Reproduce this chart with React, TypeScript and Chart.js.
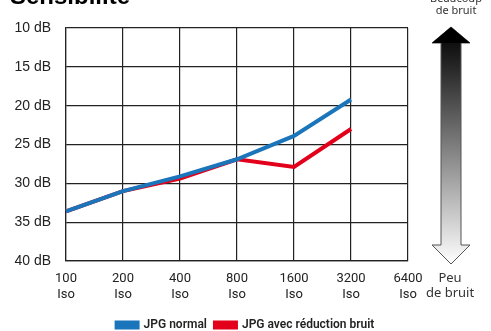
import React, { useEffect, useRef } from "react";
import { Chart, registerables } from "chart.js";

Chart.register(...registerables);

const categories: string[][] = [
  ["100", "Iso"],
  ["200", "Iso"],
  ["400", "Iso"],
  ["800", "Iso"],
  ["1600", "Iso"],
  ["3200", "Iso"],
  ["6400", "Iso"],
];
const jpgNormal: (number | null)[] = [33.6, 31.0, 29.1, 26.9, 23.9, 19.2, null];
const jpgReduction: (number | null)[] = [33.6, 31.0, 29.4, 26.9, 27.9, 23.0, null];
const seriesNames = ["JPG normal", "JPG avec réduction bruit"];
const titleText = "Sensibilité";
const topNote = ["Beaucoup", "de bruit"];
const bottomNote = ["Peu", "de bruit"];

const BLUE = "#1b75bb";
const RED = "#e2001a";

const decorPlugin = {
  id: "decor",
  afterDraw(chart: any) {
    const ctx = chart.ctx as CanvasRenderingContext2D;
    const area = chart.chartArea;
    ctx.save();
    ctx.fillStyle = "#000";
    ctx.font = "bold 24px 'Liberation Sans', Arial, sans-serif";
    ctx.textAlign = "left";
    ctx.textBaseline = "alphabetic";
    ctx.fillText(titleText, 10, 4);

    const cx = 451;
    const top = area.top - 1;
    const bottom = area.bottom + 3;
    const headH = 16;
    const headW = 19;
    const shaftW = 10;
    const grad = ctx.createLinearGradient(0, top, 0, bottom);
    grad.addColorStop(0, "#000");
    grad.addColorStop(0.15, "#222");
    grad.addColorStop(1, "#fff");
    ctx.beginPath();
    ctx.moveTo(cx, top);
    ctx.lineTo(cx + headW, top + headH);
    ctx.lineTo(cx + shaftW, top + headH);
    ctx.lineTo(cx + shaftW, bottom - headH - 3);
    ctx.lineTo(cx + headW, bottom - headH - 3);
    ctx.lineTo(cx, bottom);
    ctx.lineTo(cx - headW, bottom - headH - 3);
    ctx.lineTo(cx - shaftW, bottom - headH - 3);
    ctx.lineTo(cx - shaftW, top + headH);
    ctx.lineTo(cx - headW, top + headH);
    ctx.closePath();
    ctx.fillStyle = grad;
    ctx.fill();
    ctx.strokeStyle = "#555";
    ctx.lineWidth = 1;
    ctx.stroke();
    ctx.beginPath();
    ctx.moveTo(cx, top);
    ctx.lineTo(cx + headW, top + headH);
    ctx.lineTo(cx - headW, top + headH);
    ctx.closePath();
    ctx.fillStyle = "#000";
    ctx.fill();

    ctx.fillStyle = "#333";
    ctx.textAlign = "center";
    ctx.font = "11px 'Noto Sans', sans-serif";
    ctx.fillText(topNote[0], 456, 2);
    ctx.fillText(topNote[1], 456, 14);
    ctx.font = "13px 'Noto Sans', sans-serif";
    ctx.fillText(bottomNote[0], 450, 282);
    ctx.fillText(bottomNote[1], 450, 297);
    ctx.restore();
  },
};

export default function App() {
  const ref = useRef<HTMLCanvasElement>(null);
  useEffect(() => {
    if (!ref.current) return;
    const chart = new Chart(ref.current, {
      type: "line",
      data: {
        labels: categories,
        datasets: [
          {
            label: seriesNames[0],
            data: jpgNormal,
            borderColor: BLUE,
            backgroundColor: BLUE,
            borderWidth: 4,
            pointRadius: 0,
            tension: 0,
          },
          {
            label: seriesNames[1],
            data: jpgReduction,
            borderColor: RED,
            backgroundColor: RED,
            borderWidth: 4,
            pointRadius: 0,
            tension: 0,
          },
        ],
      },
      options: {
        animation: false,
        responsive: false,
        layout: { padding: { top: 28, right: 0, left: 0, bottom: -10 } },
        plugins: {
          tooltip: { enabled: false },
          legend: {
            position: "bottom",
            labels: {
              boxWidth: 21,
              boxHeight: 5,
              padding: 8,
              color: "#222",
              font: { family: "Roboto, sans-serif", size: 12, weight: "600" },
            },
          },
        },
        scales: {
          x: {
            offset: false,
            grid: { color: "#222", lineWidth: 1.2, drawTicks: false },
            border: { color: "#222", width: 1.2 },
            ticks: {
              color: "#222",
              padding: 10,
              maxRotation: 0,
              autoSkip: false,
              font: { family: "Roboto, sans-serif", size: 13, lineHeight: 1.2 },
            },
            afterFit(scale: any) {
              scale.height = 50;
            },
          },
          y: {
            reverse: true,
            min: 10,
            max: 40,
            grid: { color: "#222", lineWidth: 1.2, drawTicks: false },
            border: { color: "#222", width: 1.2 },
            ticks: {
              stepSize: 5,
              color: "#222",
              padding: 15,
              font: { family: "'Liberation Sans', Arial, sans-serif", size: 14 },
              callback: (v: any) => `${v} dB`,
            },
            afterFit(scale: any) {
              scale.width = 66;
            },
          },
          yr: {
            position: "right",
            display: true,
            grid: { display: false, drawTicks: false },
            border: { display: false },
            ticks: { display: false },
            afterFit(scale: any) {
              scale.width = 83;
            },
          },
        },
      },
      plugins: [decorPlugin],
    });
    return () => chart.destroy();
  }, []);
  return (
    <div style={{ position: "fixed", left: 0, top: 0, width: 491, height: 331, background: "#fff" }}>
      <canvas ref={ref} width={491} height={331} />
    </div>
  );
}
